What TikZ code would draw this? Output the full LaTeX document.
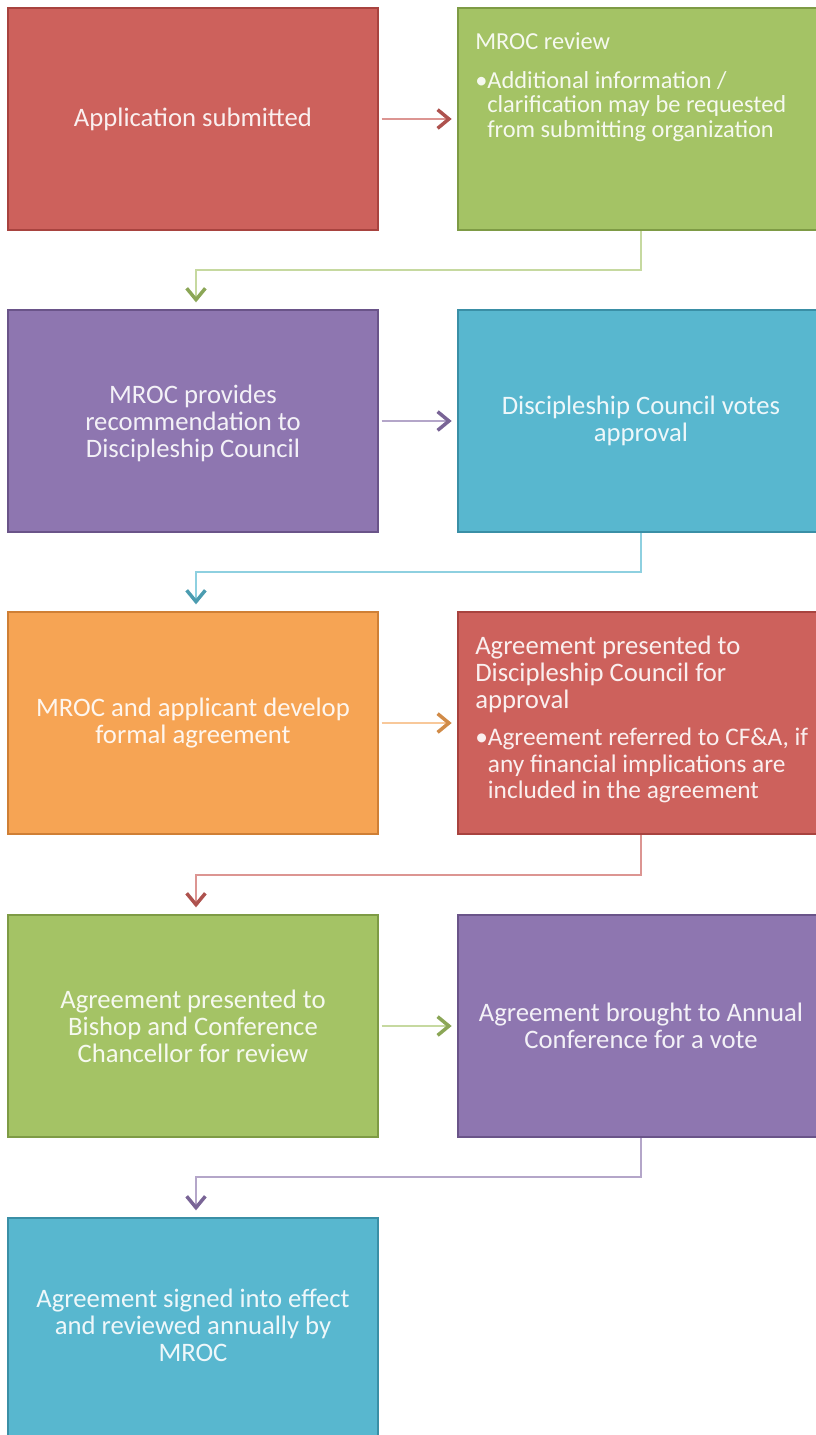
\documentclass[tikz,border=0pt]{standalone}
\usepackage{fontspec}
\setmainfont{Carlito}
\usetikzlibrary{arrows.meta}
\definecolor{redF}{HTML}{CD615C}\definecolor{redD}{HTML}{A8433F}\definecolor{redL}{HTML}{DC9592}
\definecolor{greF}{HTML}{A4C365}\definecolor{greD}{HTML}{7E9B45}\definecolor{greL}{HTML}{C6D9A0}
\definecolor{purF}{HTML}{8E76B0}\definecolor{purD}{HTML}{6A5489}\definecolor{purL}{HTML}{B4A6C9}
\definecolor{teaF}{HTML}{58B7CF}\definecolor{teaD}{HTML}{3A8FA6}\definecolor{teaL}{HTML}{8ED0E0}
\definecolor{oraF}{HTML}{F6A454}\definecolor{oraD}{HTML}{CF7F35}\definecolor{oraL}{HTML}{F8C89A}
\tikzset{
  box/.style={rectangle, draw=#1D, fill=#1F, line width=1.5pt, inner sep=0pt,
    minimum width=277.5pt, minimum height=166.5pt},
  rbox/.style={box=#1, minimum width=276pt},
  txt/.style={text=white, text opacity=0.9, align=center, inner sep=0pt,
    font=\fontsize{20}{20.3}\selectfont},
  ltxt/.style={txt, align=left, anchor=north west},
  conn/.style={line width=1.6pt, draw=#1L,
    -{Straight Barb[length=8.5pt,width=14pt,line width=2.6pt,color=#1F!85!black]}},
}
\begin{document}
\begin{tikzpicture}[x=0.75pt,y=-0.75pt]
\fill[white] (0,0) rectangle (816,1435);
\path[use as bounding box] (0,0) rectangle (816,1435);
\clip (0,0) rectangle (816,1435);
% row 1
\node[box=red] (b1) at (193,119) {};
\node[txt] (t1) at (b1.center) {Application submitted};
\node[rbox=gre] (b2) at (642,119) {};
\node[ltxt, font=\fontsize{18.3}{18.5}\selectfont] (t2a) at (475,32) {MROC review};
\node[ltxt, font=\fontsize{18.3}{18.5}\selectfont] (t2b) at (475,71) {\textbullet Additional information /\\\hspace*{9pt}clarification may be requested\\\hspace*{9pt}from submitting organization};
% row 2
\node[box=pur] (b3) at (193,421) {};
\node[txt] (t3) at (193,423) {MROC provides\\recommendation to\\Discipleship Council};
\node[rbox=tea] (b4) at (642,421) {};
\node[txt] (t4) at (641,421) {Discipleship Council votes\\approval};
% row 3
\node[box=ora] (b5) at (193,723) {};
\node[txt] (t5) at (b5.center) {MROC and applicant develop\\formal agreement};
\node[rbox=red] (b6) at (642,723) {};
\node[ltxt] (t6a) at (475,636) {Agreement presented to\\Discipleship Council for\\approval};
\node[ltxt, font=\fontsize{19}{19.6}\selectfont] (t6b) at (475,728) {\textbullet Agreement referred to CF\&A, if\\\hspace*{9.5pt}any financial implications are\\\hspace*{9.5pt}included in the agreement};
% row 4
\node[box=gre] (b7) at (193,1026) {};
\node[txt] (t7) at (b7.center) {Agreement presented to\\Bishop and Conference\\Chancellor for review};
\node[rbox=pur] (b8) at (642,1026) {};
\node[txt] (t8) at (641,1026) {Agreement brought to Annual\\Conference for a vote};
% row 5
\node[box=tea] (b9) at (193,1329) {};
\node[txt] (t9) at (193,1325) {Agreement signed into effect\\and reviewed annually by\\MROC};
% horizontal connectors
\draw[conn=red, shorten <=2pt, shorten >=4pt] (b1.east) -- (b2.west);
\draw[conn=pur, shorten <=2pt, shorten >=4pt] (b3.east) -- (b4.west);
\draw[conn=ora, shorten <=2pt, shorten >=4pt] (b5.east) -- (b6.west);
\draw[conn=gre, shorten <=2pt, shorten >=4pt] (b7.east) -- (b8.west);
% elbow connectors
\draw[conn=gre, shorten >=5pt] ([xshift=-0.75pt]b2.south) -- ++(0,39) -| ([xshift=2.25pt]b3.north);
\draw[conn=tea, shorten >=5pt] ([xshift=-0.75pt]b4.south) -- ++(0,39) -| ([xshift=2.25pt]b5.north);
\draw[conn=red, shorten >=5pt] ([xshift=-0.75pt]b6.south) -- ++(0,40) -| ([xshift=2.25pt]b7.north);
\draw[conn=pur, shorten >=5pt] ([xshift=-0.75pt]b8.south) -- ++(0,39) -| ([xshift=2.25pt]b9.north);
\end{tikzpicture}
\end{document}
